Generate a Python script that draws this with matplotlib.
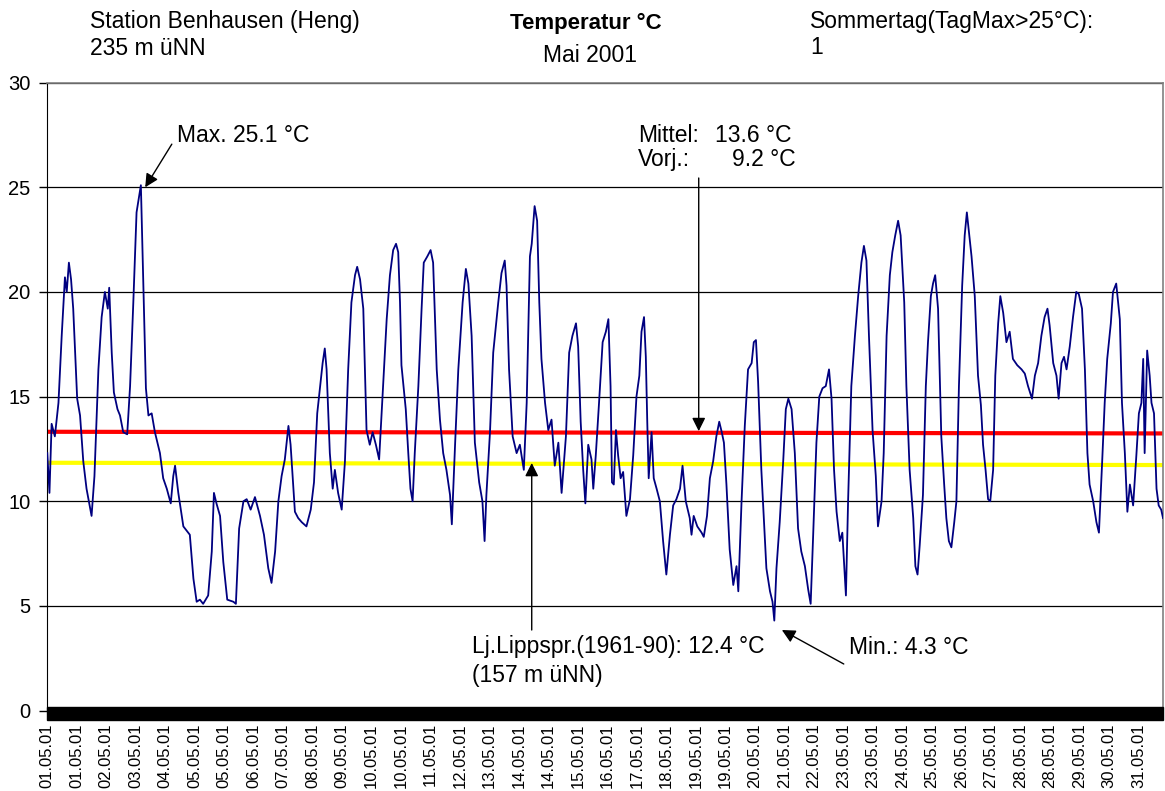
import numpy as np
import matplotlib
matplotlib.use("Agg")
import matplotlib.pyplot as plt
from matplotlib.patches import Rectangle

plt.rcParams["font.family"] = ["Liberation Sans", "DejaVu Sans"]

# ── Daten (Tag seit 01.05. 00:00, Temperatur in °C) ──────────────
seg_01_08 = [
    (0.00, 12.3), (0.06, 10.4), (0.12, 13.7), (0.21, 13.1), (0.31, 14.7), (0.40, 17.9),
    (0.49, 20.7), (0.54, 20.0), (0.60, 21.4), (0.66, 20.6), (0.72, 19.2), (0.83, 14.9),
    (0.91, 14.1), (1.00, 11.9), (1.09, 10.6), (1.23, 9.3), (1.31, 11.2), (1.42, 16.3),
    (1.51, 18.8), (1.60, 20.0), (1.68, 19.2), (1.72, 20.2), (1.79, 17.1), (1.85, 15.2),
    (1.95, 14.4), (2.02, 14.1), (2.11, 13.3), (2.22, 13.2), (2.30, 15.5), (2.39, 19.5),
    (2.48, 23.8), (2.60, 25.1), (2.67, 20.3), (2.74, 15.4), (2.81, 14.1), (2.90, 14.2),
    (2.99, 13.3), (3.13, 12.3), (3.22, 11.1), (3.32, 10.6), (3.43, 9.9), (3.50, 11.2),
    (3.55, 11.7), (3.64, 10.4), (3.78, 8.8), (3.96, 8.4), (4.06, 6.3), (4.15, 5.2),
    (4.24, 5.3), (4.33, 5.1), (4.47, 5.5), (4.57, 7.6), (4.63, 10.4), (4.70, 9.9),
    (4.80, 9.3), (4.89, 7.1), (5.00, 5.3), (5.17, 5.2), (5.24, 5.1), (5.33, 8.7),
    (5.45, 10.0), (5.54, 10.1), (5.65, 9.6), (5.77, 10.2), (5.91, 9.3), (6.02, 8.4),
    (6.14, 6.8), (6.23, 6.1), (6.33, 7.6), (6.42, 10.0), (6.51, 11.2), (6.60, 12.0),
    (6.70, 13.6), (6.76, 12.7), (6.83, 10.8), (6.88, 9.5), (6.97, 9.2), (7.07, 9.0),
    (7.20, 8.8), (7.32, 9.6), (7.41, 10.9), (7.50, 14.2), (7.58, 15.5), (7.65, 16.6),
    (7.71, 17.3), (7.76, 16.3), (7.85, 12.3), (7.93, 10.6), (7.99, 11.5), (8.08, 10.4),
]
seg_09_16 = [
    (8.18, 9.6), (8.27, 11.9), (8.36, 16.3), (8.45, 19.5), (8.55, 20.8), (8.61, 21.2),
    (8.69, 20.6), (8.78, 19.2), (8.87, 13.4), (8.96, 12.7), (9.04, 13.3), (9.13, 12.7),
    (9.22, 12.0), (9.33, 15.5), (9.43, 18.7), (9.52, 20.8), (9.61, 22.0), (9.69, 22.3),
    (9.75, 21.9), (9.80, 19.5), (9.84, 16.5), (9.96, 14.4), (10.03, 12.3), (10.09, 10.6),
    (10.15, 10.0), (10.21, 12.3), (10.31, 15.5), (10.40, 19.2), (10.46, 21.4), (10.56, 21.7),
    (10.65, 22.0), (10.72, 21.4), (10.82, 16.3), (10.91, 13.9), (11.00, 12.3), (11.09, 11.5),
    (11.19, 10.3), (11.24, 8.9), (11.33, 12.7), (11.42, 16.3), (11.54, 19.5), (11.63, 21.1),
    (11.70, 20.4), (11.79, 17.9), (11.88, 12.8), (12.00, 10.9), (12.09, 10.0), (12.15, 8.1),
    (12.20, 10.3), (12.30, 13.3), (12.39, 17.1), (12.53, 19.5), (12.62, 20.9), (12.71, 21.5),
    (12.76, 20.3), (12.83, 16.3), (12.93, 13.1), (13.04, 12.3), (13.13, 12.7), (13.24, 11.5),
    (13.32, 14.7), (13.41, 21.7), (13.46, 22.3), (13.54, 24.1), (13.61, 23.4), (13.67, 19.5),
    (13.73, 16.8), (13.83, 14.7), (13.92, 13.4), (14.01, 13.9), (14.10, 11.7), (14.20, 12.8),
    (14.29, 10.4), (14.41, 13.1), (14.50, 17.1), (14.59, 17.9), (14.69, 18.5), (14.75, 17.4),
    (14.82, 13.8), (14.89, 11.5), (14.95, 9.9), (15.03, 12.7), (15.12, 12.0), (15.17, 10.6),
    (15.24, 12.2), (15.33, 14.7), (15.43, 17.6), (15.52, 18.1), (15.59, 18.7), (15.65, 15.5),
    (15.69, 10.9), (15.74, 10.8), (15.80, 13.4), (15.86, 12.2), (15.93, 11.1),
]
seg_17_23 = [
    (16.00, 11.4), (16.09, 9.3), (16.19, 10.1), (16.28, 12.2), (16.37, 15.0), (16.45, 16.0),
    (16.51, 18.1), (16.58, 18.8), (16.63, 16.9), (16.67, 13.8), (16.71, 11.1), (16.79, 13.3),
    (16.85, 11.1), (16.93, 10.6), (17.02, 10.0), (17.11, 8.1), (17.20, 6.5), (17.30, 8.4),
    (17.39, 9.8), (17.48, 10.1), (17.58, 10.6), (17.65, 11.7), (17.74, 10.0), (17.85, 9.2),
    (17.90, 8.4), (17.96, 9.3), (18.06, 8.8), (18.18, 8.5), (18.24, 8.3), (18.33, 9.3),
    (18.41, 11.1), (18.50, 11.9), (18.59, 13.1), (18.67, 13.8), (18.74, 13.3), (18.80, 12.8),
    (18.87, 10.8), (18.96, 7.7), (19.06, 6.0), (19.15, 6.9), (19.20, 5.7), (19.29, 10.0),
    (19.38, 13.6), (19.47, 16.3), (19.57, 16.6), (19.63, 17.6), (19.69, 17.7), (19.75, 15.7),
    (19.84, 11.5), (19.91, 9.2), (19.98, 6.8), (20.08, 5.7), (20.15, 5.2), (20.20, 4.3),
    (20.26, 6.8), (20.35, 9.0), (20.45, 12.0), (20.52, 14.4), (20.59, 14.9), (20.68, 14.4),
    (20.77, 12.3), (20.86, 8.7), (20.95, 7.6), (21.05, 6.9), (21.14, 5.8), (21.21, 5.1),
    (21.28, 8.4), (21.37, 12.8), (21.45, 15.0), (21.54, 15.4), (21.63, 15.5), (21.72, 16.3),
    (21.79, 14.9), (21.86, 11.5), (21.93, 9.5), (22.02, 8.1), (22.09, 8.5), (22.19, 5.5),
    (22.25, 10.0), (22.34, 15.5), (22.44, 17.9), (22.53, 19.8), (22.62, 21.4), (22.69, 22.2),
    (22.76, 21.5), (22.83, 17.9), (22.93, 13.4), (23.02, 11.2), (23.08, 8.8), (23.18, 10.0),
    (23.24, 12.3), (23.32, 17.9), (23.41, 20.8), (23.48, 21.9), (23.56, 22.7), (23.64, 23.4),
]
seg_24_31 = [
    (23.71, 22.7), (23.81, 19.5), (23.87, 15.5), (23.96, 11.5), (24.06, 9.2), (24.12, 6.9),
    (24.18, 6.5), (24.24, 7.9), (24.33, 10.3), (24.41, 15.5), (24.47, 17.6), (24.55, 19.8),
    (24.61, 20.4), (24.67, 20.8), (24.75, 19.2), (24.84, 13.1), (24.92, 10.8), (24.98, 9.2),
    (25.05, 8.1), (25.12, 7.8), (25.20, 9.0), (25.26, 10.0), (25.33, 15.5), (25.42, 20.3),
    (25.49, 22.7), (25.55, 23.8), (25.60, 23.0), (25.68, 21.7), (25.77, 19.8), (25.86, 16.0),
    (25.94, 14.6), (26.00, 12.7), (26.07, 11.5), (26.14, 10.1), (26.20, 10.0), (26.28, 11.5),
    (26.34, 16.0), (26.42, 18.5), (26.48, 19.8), (26.56, 19.0), (26.65, 17.6), (26.74, 18.1),
    (26.83, 16.8), (26.95, 16.5), (27.07, 16.3), (27.16, 16.1), (27.25, 15.5), (27.36, 14.9),
    (27.44, 16.0), (27.53, 16.6), (27.62, 17.9), (27.71, 18.8), (27.79, 19.2), (27.85, 18.4),
    (27.95, 16.6), (28.04, 16.0), (28.10, 14.9), (28.18, 16.6), (28.25, 16.9), (28.32, 16.3),
    (28.41, 17.4), (28.50, 18.8), (28.59, 20.0), (28.66, 19.9), (28.75, 19.2), (28.83, 16.3),
    (28.90, 12.3), (28.96, 10.8), (29.06, 10.0), (29.15, 9.0), (29.22, 8.5), (29.31, 11.9),
    (29.38, 14.7), (29.45, 16.8), (29.55, 18.5), (29.61, 20.0), (29.70, 20.4), (29.80, 18.7),
    (29.86, 14.7), (29.94, 12.3), (30.01, 9.5), (30.08, 10.8), (30.17, 9.8), (30.26, 12.2),
    (30.33, 14.2), (30.40, 14.7), (30.45, 16.8), (30.49, 12.3), (30.56, 17.2), (30.63, 16.0),
    (30.68, 14.7), (30.75, 14.2), (30.82, 10.6), (30.88, 9.8), (30.95, 9.6), (31.00, 9.2),
]

# Trendlinien: Monatsmittel (rot) und langjähriges Mittel Lippspringe (gelb)
mittel_days = [0.0, 31.0]
mittel_vals = [13.32, 13.24]
lj_days = [0.0, 31.0]
lj_vals = [11.84, 11.73]

date_labels = [
    "01.05.01", "01.05.01", "02.05.01", "03.05.01", "04.05.01", "05.05.01", "05.05.01",
    "06.05.01", "07.05.01", "08.05.01", "09.05.01", "10.05.01", "10.05.01", "11.05.01",
    "12.05.01", "13.05.01", "14.05.01", "14.05.01", "15.05.01", "16.05.01", "17.05.01",
    "18.05.01", "19.05.01", "19.05.01", "20.05.01", "21.05.01", "22.05.01", "23.05.01",
    "23.05.01", "24.05.01", "25.05.01", "26.05.01", "27.05.01", "28.05.01", "28.05.01",
    "29.05.01", "30.05.01", "31.05.01",
]
LABEL_STEP = 118 / 144.0   # alle 118 Messwerte (10-min) eine Beschriftung

pts = seg_01_08 + seg_09_16 + seg_17_23 + seg_24_31
t_days = np.array([p[0] for p in pts])
temp = np.array([p[1] for p in pts])

# ── Plot ─────────────────────────────────────────────────────────
W, H = 1165, 791
fig = plt.figure(figsize=(W / 100, H / 100), dpi=100)
x0, x1, y_top, y_bot = 47.3, 1163.0, 82.6, 710.6
ax = fig.add_axes([x0 / W, 1 - y_bot / H, (x1 - x0) / W, (y_bot - y_top) / H])

ax.plot(t_days, temp, color="#000080", lw=1.3, zorder=3)
ax.plot(mittel_days, mittel_vals, color="#ff0000", lw=3, zorder=2)
ax.plot(lj_days, lj_vals, color="#ffff00", lw=3, zorder=2)

ax.set_xlim(0, 31)
ax.set_ylim(0, 30)
ax.set_yticks(range(0, 31, 5))
ax.tick_params(axis="y", direction="out", length=6, width=1, labelsize=14.5, pad=6)
ax.yaxis.grid(True, color="black", lw=0.9)
ax.set_axisbelow(True)

ax.set_xticks([i * LABEL_STEP for i in range(len(date_labels))])
ax.set_xticklabels(date_labels, rotation=90, fontsize=12, va="top", ha="center")
ax.tick_params(axis="x", length=0, pad=9)

for s in ("top", "right"):
    ax.spines[s].set_color("#808080")
    ax.spines[s].set_linewidth(1.2)
ax.spines["left"].set_color("black")
ax.spines["bottom"].set_visible(False)

# dichte Teilstriche der Kategorieachse -> schwarzer Balken
hpx = y_bot - y_top
ax.add_patch(Rectangle((0, -9.4 / hpx), 1, 13 / hpx, transform=ax.transAxes,
                       color="black", clip_on=False, zorder=6))

# ── Beschriftungen ───────────────────────────────────────────────
FS = 16.5
arrow = dict(arrowstyle="-|>", color="black", lw=1, mutation_scale=20, shrinkA=0, shrinkB=0)


def yv(py):
    # Pixelzeile -> Temperaturwert
    return (y_bot - py) / hpx * 30


ax.text(3.60, yv(142), "Max. 25.1 °C", fontsize=FS, va="baseline")
ax.annotate("", xy=(2.72, 25.0), xytext=(3.46, 27.06), arrowprops=arrow)

ax.text(16.41, yv(142), "Mittel:", fontsize=FS, va="baseline")
ax.text(18.55, yv(142), "13.6 °C", fontsize=FS, va="baseline")
ax.text(16.41, yv(166), "Vorj.:", fontsize=FS, va="baseline")
ax.text(19.02, yv(166), "9.2 °C", fontsize=FS, va="baseline")
ax.annotate("", xy=(18.10, 13.35), xytext=(18.10, yv(178)), arrowprops=arrow)

ax.text(11.80, yv(653), "Lj.Lippspr.(1961-90): 12.4 °C", fontsize=FS, va="baseline")
ax.text(11.80, yv(682), "(157 m üNN)", fontsize=FS, va="baseline")
ax.annotate("", xy=(13.46, 11.83), xytext=(13.46, yv(630)), arrowprops=arrow)

ax.text(22.27, yv(654), "Min.: 4.3 °C", fontsize=FS, va="baseline")
ax.annotate("", xy=(20.41, yv(630)), xytext=(22.13, yv(664)), arrowprops=arrow)


def ftext(px, py, s, **kw):
    kw.setdefault("fontsize", FS)
    fig.text(px / W, 1 - py / H, s, va="baseline", **kw)


ftext(90, 28, "Station Benhausen (Heng)")
ftext(90, 55, "235 m üNN")
ftext(510, 29, "Temperatur °C", fontsize=16, fontweight="bold")
ftext(543, 62, "Mai 2001")
ftext(810, 28, "Sommertag(TagMax>25°C):")
ftext(810, 54, "1")

fig.savefig("out.png", dpi=100)
